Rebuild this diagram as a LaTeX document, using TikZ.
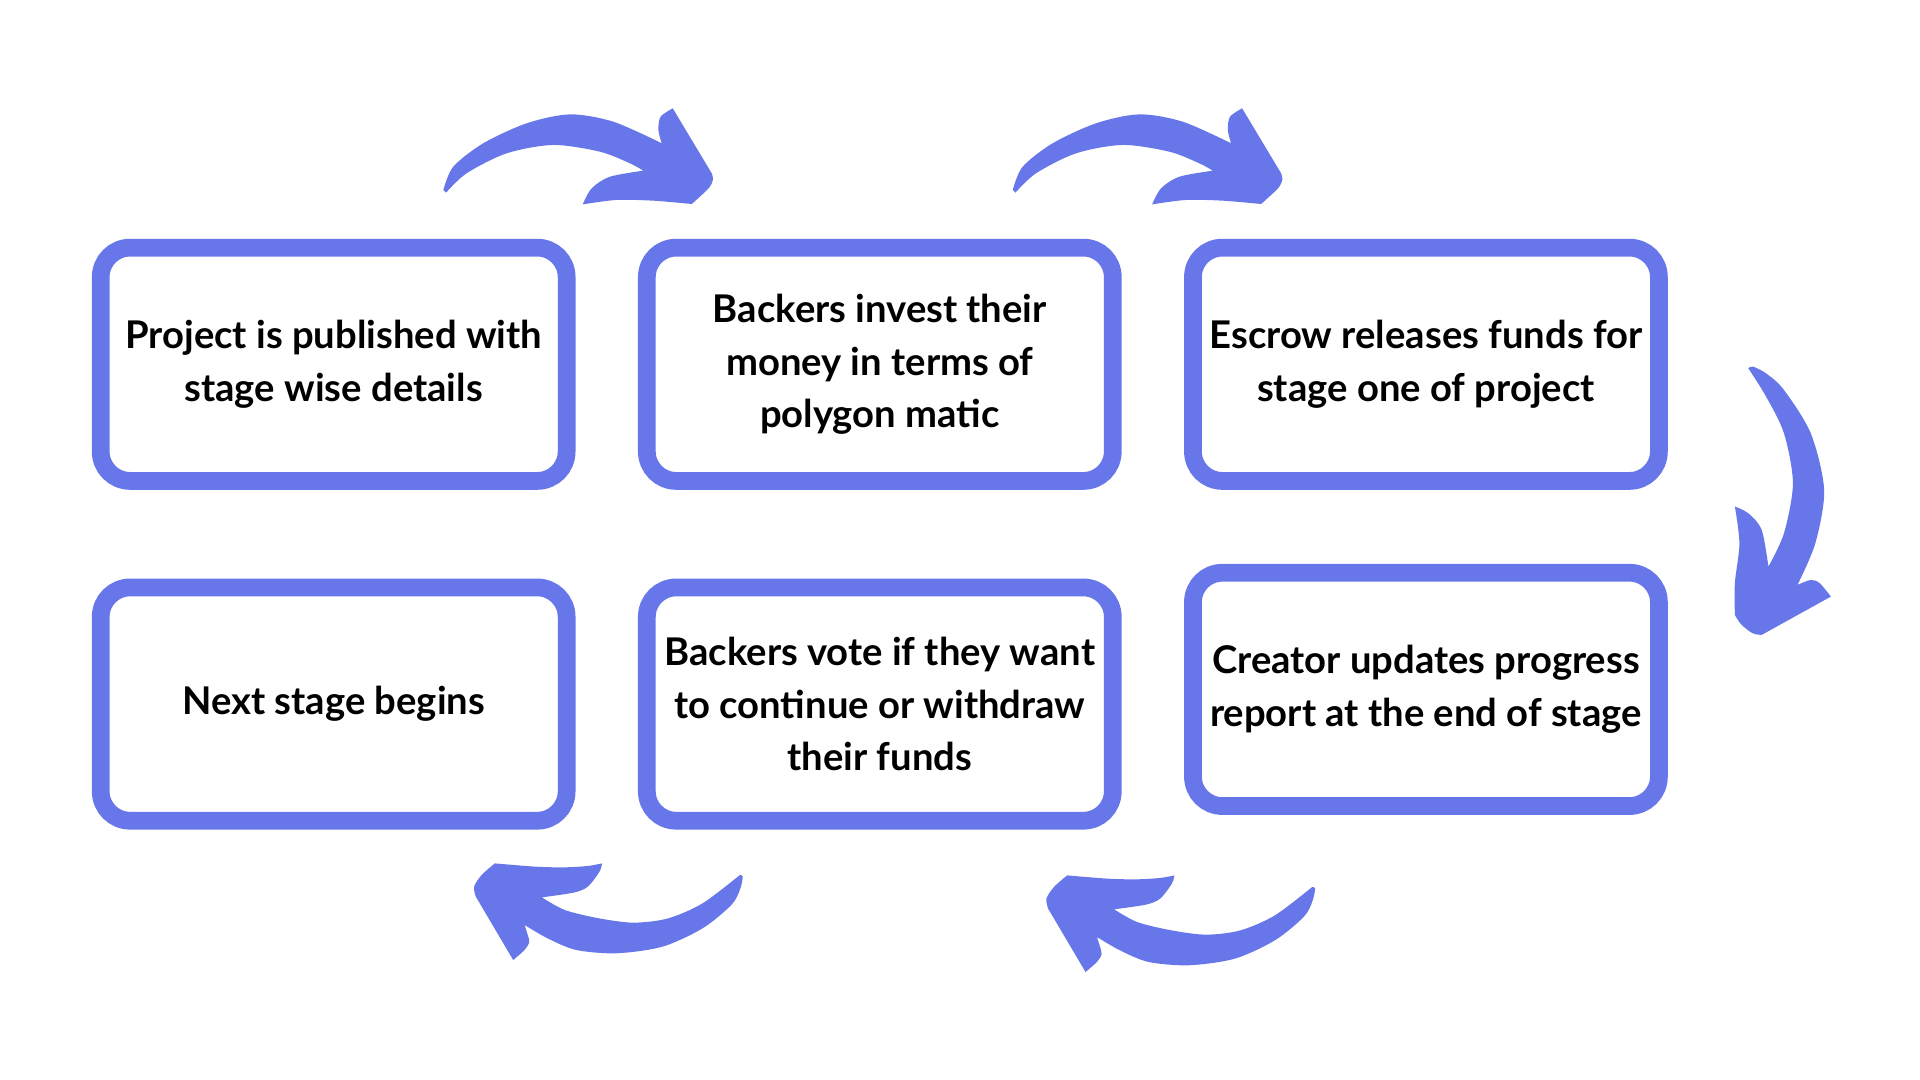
\documentclass[tikz,border=0pt]{standalone}
\usepackage{fontspec}
\setmainfont{Lato}
\definecolor{flowblue}{RGB}{103,119,234}
\tikzset{
  stagebox/.style={draw=flowblue, line width=7.25pt, rounded corners=12pt,
    minimum width=190.25pt, minimum height=95.25pt, inner sep=0pt,
    align=center, text=black, fill=white,
    font=\fontsize{15.6}{21.4}\selectfont\bfseries},
  flowarrow/.style={fill=flowblue},
  pics/toparrow/.style={code={
    \fill[flowarrow]
      plot[smooth] coordinates {(362.1,155.1) (370.2,136.1) (394.7,117.0) (430.1,100.7) (465.5,93.4) (500.9,99.4) (540.4,117.0)}
      -- plot[smooth] coordinates {(540.4,117.0) (537.7,106.2) (539.5,95.3) (549.4,88.5)}
      -- plot[smooth] coordinates {(581.2,141.5) (582.2,147) (578.5,154) (564.9,166.6)}
      -- plot[smooth] coordinates {(564.9,166.6) (533.6,163.9) (503.6,163.3) (475.9,166.9)}
      -- plot[smooth] coordinates {(475.9,166.9) (483.2,153.8) (498.2,144.3) (525.4,139.4)}
      -- plot[smooth] coordinates {(525.4,139.4) (514.5,133.4) (490.0,123.9) (451.9,118.4) (413.8,125.2) (381.1,141.5) (364.3,157.3)}
      -- cycle;
  }},
  pics/downarrow/.style={code={
    \fill[flowarrow]
      plot[smooth] coordinates {(1427.8,300.8) (1431.4,299.4) (1442.3,304.9) (1456.9,318.5) (1478.8,353.9) (1489.7,400.1) (1482.5,443.7) (1467.9,477.7)}
      -- plot[smooth] coordinates {(1467.9,477.7) (1478.8,473.6) (1486.1,476.3) (1495.2,487.2)}
      -- plot[smooth] coordinates {(1438.7,518.5) (1431.4,517.2) (1422,510) (1416.8,502.2)}
      -- plot[smooth] coordinates {(1416.8,502.2) (1416.8,476.3) (1420.5,443.7) (1416.8,413.7)}
      -- plot[smooth] coordinates {(1416.8,413.7) (1427.8,419.2) (1438.7,432.8) (1444.2,462.7)}
      -- plot[smooth] coordinates {(1444.2,462.7) (1456.9,435.5) (1464.2,394.7) (1456.9,353.9) (1442.3,323.9) (1427.8,300.8)}
      -- cycle;
  }},
  pics/botarrow/.style={code={
    \fill[flowarrow]
      plot[smooth] coordinates {(604.2,714.6) (573.8,737.7) (545.6,750.0) (517.5,753.5) (489.4,750.0) (461.3,743.2) (442.5,732.8)}
      -- plot[smooth] coordinates {(442.5,732.8) (468.3,729.0) (480.0,724.1) (489.5,712) (491.7,705.1)}
      -- plot[smooth] coordinates {(491.7,705.1) (480,707.2) (461.3,708.3) (437.8,707.8) (404.1,705.1)}
      -- plot[smooth] coordinates {(404.1,705.1) (393.3,714.6) (387.2,724.1) (388.6,732.3)}
      -- plot[smooth] coordinates {(419.1,784.0) (428.4,775.8) (432.2,769.4) (430.8,762.9) (428.4,755.4)}
      -- plot[smooth] coordinates {(428.4,755.4) (447.2,766.3) (470.6,775.8) (503.5,778.5) (541.0,773.1) (573.8,758.1) (597.2,739.1) (604.2,726.8) (606.6,715.9) (604.2,714.6)}
      -- cycle;
  }}
}
\begin{document}
\begin{tikzpicture}[x=0.5pt, y=-0.5pt]
  \useasboundingbox[fill=white] (0,0) rectangle (1568,882);
  % stage boxes
  \node[stagebox] (publish) at (272.5,297.5) {Project is published with\\stage wise details};
  \node[stagebox] (invest)  at (718.5,297.5) {Backers invest their\\money in terms of\\polygon matic};
  \node[stagebox] (escrow)  at (1164.5,297.5) {Escrow releases funds for\\stage one of project};
  \node[stagebox] (report)  at (1164.5,563) {Creator updates progress\\report at the end of stage};
  \node[stagebox] (vote)    at (718.5,575) {Backers vote if they want\\to continue or withdraw\\their funds};
  \node[stagebox] (next)    at (272.5,575) {Next stage begins};
  % curved arrows
  \pic at (0,0) {toparrow};
  \pic at (465,0) {toparrow};
  \pic at (0,0) {downarrow};
  \pic at (467.4,9.8) {botarrow};
  \pic at (0,0) {botarrow};
\end{tikzpicture}
\end{document}
